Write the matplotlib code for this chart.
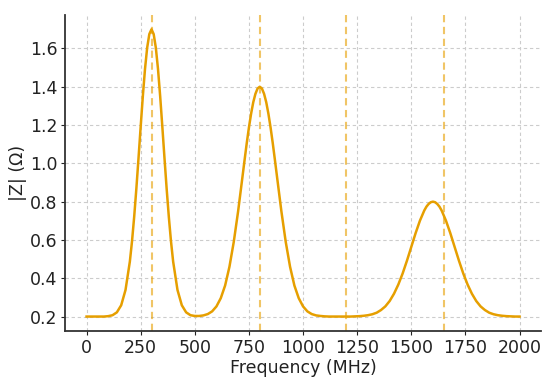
import numpy as np
import matplotlib
matplotlib.use("Agg")
import matplotlib.pyplot as plt

# frequencies where |Z| was read, finer steps around the peaks
freq_mhz = (list(range(0, 200, 20)) + list(range(200, 410, 10))
            + list(range(420, 720, 20)) + list(range(720, 890, 10))
            + list(range(900, 1560, 20)) + list(range(1560, 1650, 10))
            + list(range(1660, 2001, 20)))

z_mag = [
    # 0-180 (20)
    0.200, 0.200, 0.200, 0.200, 0.200, 0.202, 0.207, 0.222, 0.259, 0.339,
    # 200-400 (10)
    0.487, 0.593, 0.721, 0.867, 1.027, 1.192, 1.351, 1.493, 1.604, 1.675,
    1.700, 1.675, 1.604, 1.493, 1.351, 1.192, 1.027, 0.867, 0.721, 0.593,
    0.487,
    # 420-700 (20)
    0.339, 0.259, 0.222, 0.207, 0.203, 0.203, 0.206, 0.213, 0.227, 0.253,
    0.296, 0.362, 0.460, 0.590, 0.749,
    # 720-880 (10)
    0.928, 1.018, 1.106, 1.187, 1.259, 1.319, 1.363, 1.391, 1.400, 1.391,
    1.363, 1.319, 1.259, 1.187, 1.106, 1.018, 0.928,
    # 900-1540 (20)
    0.749, 0.590, 0.460, 0.362, 0.296, 0.253, 0.227, 0.213, 0.206, 0.203,
    0.201, 0.200, 0.200, 0.200, 0.200, 0.200, 0.200, 0.201, 0.202, 0.204,
    0.207, 0.212, 0.220, 0.234, 0.253, 0.281, 0.319, 0.367, 0.425, 0.492,
    0.564, 0.636, 0.701,
    # 1560-1640 (10)
    0.754, 0.774, 0.788, 0.797, 0.800, 0.797, 0.788, 0.774, 0.754,
    # 1660-2000 (20)
    0.701, 0.636, 0.564, 0.492, 0.425, 0.367, 0.319, 0.281, 0.253, 0.234,
    0.220, 0.212, 0.207, 0.204, 0.202, 0.201, 0.200, 0.200,
]

# dashed marker frequencies
markers_mhz = [300, 800, 1200, 1650]

orange = "#E69F00"

fig = plt.figure(figsize=(5.5, 3.83), dpi=100)
ax = fig.add_axes([0.118, 0.136, 0.866, 0.825])

ax.plot(freq_mhz, z_mag, color=orange, linewidth=1.8, zorder=3,
        solid_joinstyle="round")
for f in markers_mhz:
    ax.axvline(f, color=orange, linestyle=(0, (3.5, 2.2)), linewidth=1.5,
               alpha=0.6, zorder=2)

ax.set_xlim(-100, 2100)
ax.set_ylim(0.125, 1.775)
ax.set_xticks(np.arange(0, 2001, 250))
ax.set_yticks(np.arange(0.2, 1.61, 0.2))
ax.set_yticklabels([f"{v:.1f}" for v in np.arange(0.2, 1.61, 0.2)])

ax.grid(True, linestyle=(0, (3, 2.5)), color="#cccccc", linewidth=0.8)
ax.set_axisbelow(True)

for s in ["top", "right"]:
    ax.spines[s].set_visible(False)
for s in ["left", "bottom"]:
    ax.spines[s].set_color("#333333")
    ax.spines[s].set_linewidth(1.3)

ax.tick_params(labelsize=12.5, colors="#222222", length=3, pad=2.5)
ax.set_xlabel("Frequency (MHz)", fontsize=12.5, color="#222222", labelpad=2)
ax.set_ylabel("|Z| (Ω)", fontsize=12.5, color="#222222", labelpad=2)

fig.savefig("out.png", dpi=100)
